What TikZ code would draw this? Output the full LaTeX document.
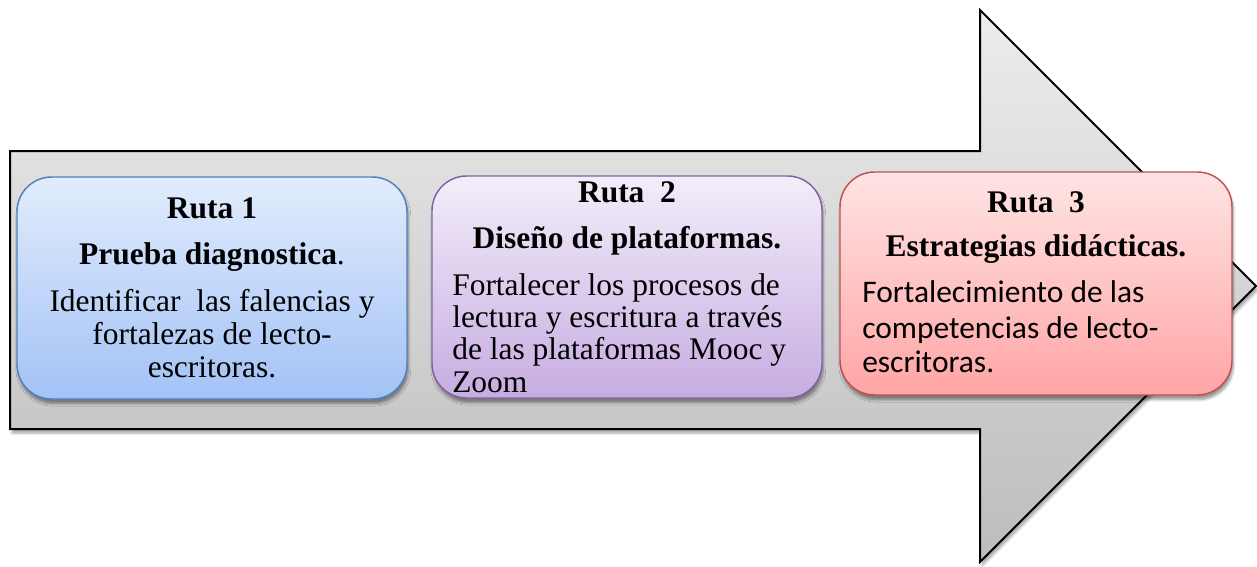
\documentclass[tikz,border=0pt]{standalone}
\usepackage{fontspec}
\setmainfont{Liberation Serif}
\newfontfamily\calibrifont{Carlito}
\usetikzlibrary{shadows,shadows.blur}
\definecolor{arrowtop}{HTML}{EDEDED}
\definecolor{arrowbot}{HTML}{BCBCBC}
\definecolor{blueTop}{HTML}{E2ECFC}
\definecolor{blueBot}{HTML}{A3C2F6}
\definecolor{blueLine}{HTML}{4F81BD}
\definecolor{purpTop}{HTML}{F3EDFA}
\definecolor{purpBot}{HTML}{C6ADE1}
\definecolor{purpLine}{HTML}{8064A2}
\definecolor{redTop}{HTML}{FFE4E4}
\definecolor{redBot}{HTML}{FFA5A5}
\definecolor{redLine}{HTML}{C0504D}
\tikzset{
  rbox/.style={rectangle, rounded corners=26pt, inner sep=0pt, line width=1.1pt,
    minimum width=292.5pt, minimum height=166.5pt,
    blur shadow={shadow xshift=1pt, shadow yshift=-3.5pt, shadow blur steps=6, shadow opacity=40}},
  ttl/.style={anchor=base, inner sep=0pt, font=\bfseries\fontsize{23.6}{28}\selectfont},
  bodyc/.style={anchor=base, inner sep=0pt, font=\fontsize{23.6}{28}\selectfont},
  bodyl/.style={anchor=base west, inner sep=0pt, font=\fontsize{23.6}{28}\selectfont},
  bodycal/.style={anchor=base west, inner sep=0pt, font=\calibrifont\fontsize{23.6}{28}\selectfont},
}
\begin{document}
\begin{tikzpicture}[x=0.75pt, y=-0.75pt]
\useasboundingbox (0,0) rectangle (1257,567);
% big arrow
\path[blur shadow={shadow xshift=1.5pt, shadow yshift=-3pt, shadow blur steps=6, shadow opacity=35},
  top color=arrowtop, bottom color=arrowbot, draw=black, line width=1.5pt, line join=miter]
  (10,151) -- (980,151) -- (980,10) -- (1256,286) -- (980,562) -- (980,429) -- (10,429) -- cycle;
% boxes
\node[rbox, draw=blueLine, top color=blueTop, bottom color=blueBot] (r1) at (212,288) {};
\node[rbox, draw=purpLine, top color=purpTop, bottom color=purpBot] (r2) at (627,287) {};
\node[rbox, draw=redLine, top color=redTop, bottom color=redBot, minimum width=294pt, minimum height=167.25pt] (r3) at (1036,283.5) {};
% box 1 text
\node[ttl] (t1a) at (212,218) {Ruta 1};
\node[bodyc] (t1b) at (212,264) {\textbf{Prueba diagnostica}.};
\node[bodyc] (t1c) at (212,311.5) {Identificar\ \ las falencias y};
\node[bodyc] (t1d) at (212,344) {fortalezas de lecto-};
\node[bodyc] (t1e) at (212,377) {escritoras.};
% box 2 text
\node[ttl] (t2a) at (627,202) {Ruta\ \ 2};
\node[ttl] (t2b) at (627,248) {Diseño de plataformas.};
\node[bodyl] (t2c) at (452,295) {Fortalecer los procesos de};
\node[bodyl] (t2d) at (452,327) {lectura y escritura a través};
\node[bodyl] (t2e) at (452,359) {de las plataformas Mooc y};
\node[bodyl] (t2f) at (452,392) {Zoom};
% box 3 text
\node[ttl] (t3a) at (1036,212) {Ruta\ \ 3};
\node[ttl] (t3b) at (1036,256) {Estrategias didácticas.};
\node[bodycal] (t3c) at (862,302.5) {Fortalecimiento de las};
\node[bodycal] (t3d) at (862,338) {competencias de lecto-};
\node[bodycal] (t3e) at (862,372.5) {escritoras.};
\end{tikzpicture}
\end{document}
